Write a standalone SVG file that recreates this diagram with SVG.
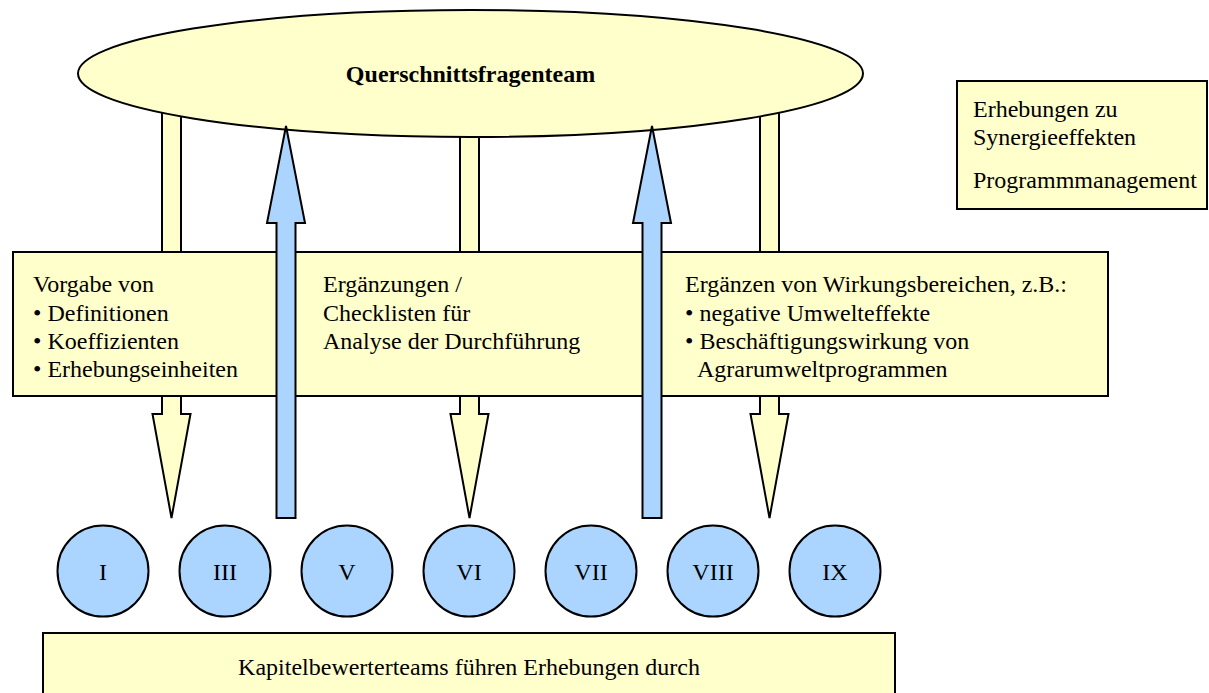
<svg xmlns="http://www.w3.org/2000/svg" width="1209" height="693" viewBox="0 0 1209 693">
<style>
text{font-family:"Liberation Serif","Times New Roman",serif;font-size:24px;fill:#000}
.y{fill:#FFFFCC;stroke:#000;stroke-width:2}
.b{fill:#ABD4FF;stroke:#000;stroke-width:2}
.c{text-anchor:middle}
</style>
<rect width="1209" height="693" fill="#fff"/>
<g id="connectors-down">
<polygon class="y" points="162,100 181,100 181,414 190.5,414 171.5,518 152.5,414 162,414"/>
<polygon class="y" points="460,100 479,100 479,414 488.5,414 469.5,518 450.5,414 460,414"/>
<polygon class="y" points="760,100 779,100 779,414 788.5,414 769.5,518 750.5,414 760,414"/>
</g>
<g id="team">
<ellipse class="y" cx="470.5" cy="73.5" rx="392.5" ry="63.5"/>
<text class="c" x="470.5" y="82" font-weight="bold">Querschnittsfragenteam</text>
</g>
<g id="synergie">
<rect class="y" x="957" y="81" width="250" height="128"/>
<text x="973" y="117">Erhebungen zu</text>
<text x="973" y="145">Synergieeffekten</text>
<text x="973" y="188">Programmmanagement</text>
</g>
<g id="vorgaben">
<rect class="y" x="13" y="252" width="1095" height="144"/>
<text x="33" y="292">Vorgabe von</text>
<text x="33" y="321">• Definitionen</text>
<text x="33" y="349">• Koeffizienten</text>
<text x="33" y="377">• Erhebungseinheiten</text>
<text x="323" y="292">Ergänzungen /</text>
<text x="323" y="321">Checklisten für</text>
<text x="323" y="349">Analyse der Durchführung</text>
<text x="685" y="292">Ergänzen von Wirkungsbereichen, z.B.:</text>
<text x="685" y="321">• negative Umwelteffekte</text>
<text x="685" y="349">• Beschäftigungswirkung von</text>
<text x="697" y="377">Agrarumweltprogrammen</text>
</g>
<g id="connectors-up">
<polygon class="b" points="286,126 305,223 295.5,223 295.5,518 276.5,518 276.5,223 267,223"/>
<polygon class="b" points="652,126 671,223 661.5,223 661.5,518 642.5,518 642.5,223 633,223"/>
</g>
<g id="kap-I"><circle class="b" cx="103" cy="571" r="45.5"/><text class="c" x="103" y="580">I</text></g>
<g id="kap-III"><circle class="b" cx="225" cy="571" r="45.5"/><text class="c" x="225" y="580">III</text></g>
<g id="kap-V"><circle class="b" cx="347" cy="571" r="45.5"/><text class="c" x="347" y="580">V</text></g>
<g id="kap-VI"><circle class="b" cx="469" cy="571" r="45.5"/><text class="c" x="469" y="580">VI</text></g>
<g id="kap-VII"><circle class="b" cx="591" cy="571" r="45.5"/><text class="c" x="591" y="580">VII</text></g>
<g id="kap-VIII"><circle class="b" cx="713" cy="571" r="45.5"/><text class="c" x="713" y="580">VIII</text></g>
<g id="kap-IX"><circle class="b" cx="835" cy="571" r="45.5"/><text class="c" x="835" y="580">IX</text></g>
<g id="kapitelteams">
<rect class="y" x="43" y="633" width="852" height="70"/>
<text class="c" x="469" y="675">Kapitelbewerterteams führen Erhebungen durch</text>
</g>
</svg>
